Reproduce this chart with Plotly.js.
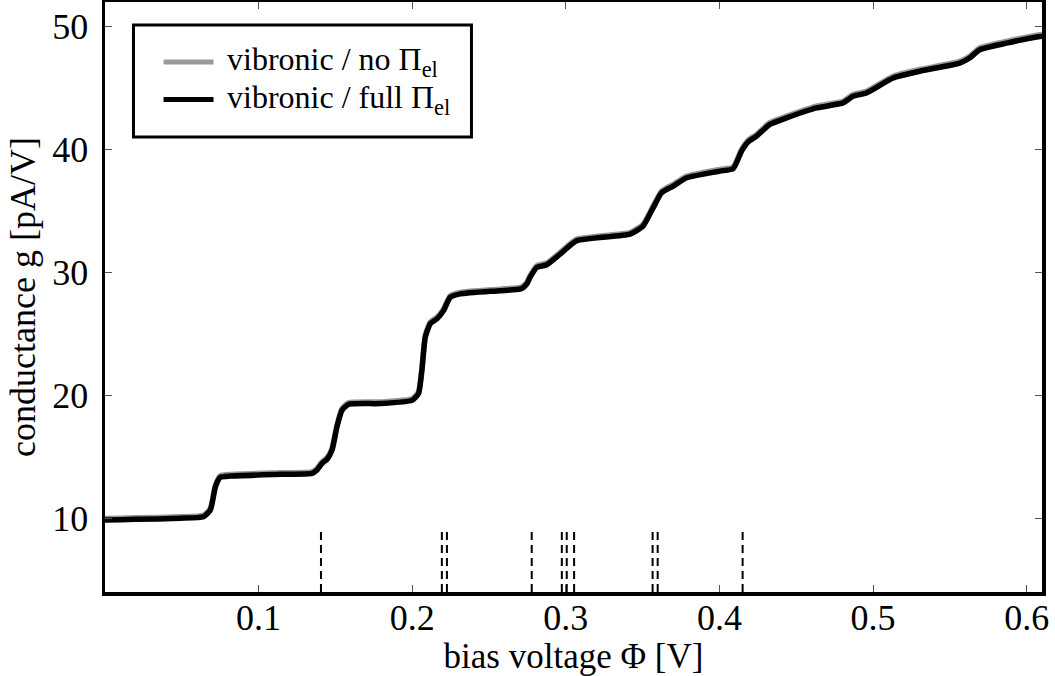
<!DOCTYPE html>
<html>
<head>
<meta charset="utf-8">
<script src="https://cdn.plot.ly/plotly-3.0.1.min.js"></script>
<style>html,body{margin:0;padding:0;background:#fff;}#chart{width:1055px;height:676px;}</style>
</head>
<body>
<div id="chart"></div>
<script>
// bias voltage [V]
var biasV = [0, 0.0491, 0.0641, 0.0686, 0.0719, 0.0751, 0.0816, 0.1141, 0.1348, 0.1380,
  0.1413, 0.1445, 0.1478, 0.1510, 0.1543, 0.1586, 0.1792, 0.1998, 0.2041, 0.2063,
  0.2085, 0.2117, 0.2161, 0.2204, 0.2247, 0.2312, 0.2572, 0.2702, 0.2724, 0.2746,
  0.2767, 0.2811, 0.2876, 0.2963, 0.3071, 0.3418, 0.3504, 0.3569, 0.3624, 0.3700,
  0.3787, 0.4003, 0.4090, 0.4144, 0.4187, 0.4242, 0.4328, 0.4437, 0.4632, 0.4805,
  0.4870, 0.4957, 0.5130, 0.5304, 0.5564, 0.5629, 0.5694, 0.5868, 0.6085, 0.6100];
// vibronic / full Pi_el conductance [pA/V]
var gFull = [9.86, 10.00, 10.13, 10.67, 12.56, 13.33, 13.43, 13.57, 13.65, 13.92,
  14.46, 14.79, 15.54, 17.43, 18.79, 19.27, 19.33, 19.59, 20.14, 22.03,
  24.73, 25.82, 26.22, 26.89, 27.97, 28.25, 28.51, 28.65, 28.78, 29.06,
  29.59, 30.41, 30.62, 31.49, 32.57, 33.11, 33.79, 35.27, 36.49, 37.03,
  37.70, 38.24, 38.45, 39.87, 40.62, 41.09, 42.04, 42.57, 43.38, 43.79,
  44.33, 44.60, 45.82, 46.37, 47.03, 47.44, 48.12, 48.65, 49.20, 49.22];
// vibronic / no Pi_el conductance [pA/V]
var gNoPi = [9.98, 10.12, 10.25, 10.80, 12.70, 13.46, 13.56, 13.70, 13.78, 14.05,
  14.59, 14.92, 15.68, 17.57, 18.93, 19.40, 19.46, 19.72, 20.28, 22.17,
  24.87, 25.96, 26.36, 27.03, 28.10, 28.38, 28.64, 28.78, 28.92, 29.20,
  29.73, 30.55, 30.76, 31.63, 32.71, 33.25, 33.93, 35.41, 36.63, 37.17,
  37.84, 38.38, 38.59, 40.01, 40.76, 41.23, 42.18, 42.71, 43.52, 43.93,
  44.47, 44.74, 45.96, 46.51, 47.17, 47.58, 48.26, 48.79, 49.34, 49.36];
// vibrational excitation thresholds [V]
var modeV = [0.1406, 0.2193, 0.2226, 0.2778, 0.2974, 0.3006, 0.3054, 0.3565, 0.3598, 0.4151];
var modeLow = 4.0, modeHigh = 9.05;

var xTicks = [0.1, 0.2, 0.3, 0.4, 0.5, 0.6];
var xTickText = ['0.1', '0.2', '0.3', '0.4', '0.5', '0.6'];
var yTicks = [10, 20, 30, 40, 50];
var yTickText = ['10', '20', '30', '40', '50'];

var seriesNames = ['vibronic / no Π<sub>el</sub>', 'vibronic / full Π<sub>el</sub>'];
var seriesColors = ['#999999', '#000000'];

var dashX = [], dashY = [];
modeV.forEach(function (v) { dashX.push(v, v, null); dashY.push(modeLow, modeHigh, null); });

var font = 'Liberation Serif, Times New Roman, serif';

var traces = [
  {x: dashX, y: dashY, mode: 'lines', showlegend: false, hoverinfo: 'skip',
   line: {color: '#000', width: 2, dash: '8px,5px'}},
  {x: biasV, y: gNoPi, mode: 'lines', name: seriesNames[0], showlegend: false,
   line: {color: seriesColors[0], width: 5.5, shape: 'spline', smoothing: 0.5}},
  {x: biasV, y: gFull, mode: 'lines', name: seriesNames[1], showlegend: false,
   line: {color: seriesColors[1], width: 5.5, shape: 'spline', smoothing: 0.5}}
];

var axisCommon = {
  showgrid: false, zeroline: false, showline: true, linecolor: '#000', linewidth: 3.5,
  mirror: 'allticks', ticks: 'inside', ticklen: 7, tickwidth: 1, tickcolor: '#555',
  tickfont: {family: font, size: 36, color: '#000'}
};

// legend drawn in paper coordinates
var legBox = {x0: 0.0304, x1: 0.3911, y0: 0.7713, y1: 0.961};
var legLineX = [0.0625, 0.1158];
var legRowY = [0.8984, 0.8348];
var legTextX = 0.1286;

var shapes = [{type: 'rect', xref: 'paper', yref: 'paper',
  x0: legBox.x0, x1: legBox.x1, y0: legBox.y0, y1: legBox.y1,
  line: {color: '#000', width: 3}, fillcolor: '#fff'}];
var annotations = [];
for (var i = 0; i < 2; i++) {
  shapes.push({type: 'line', xref: 'paper', yref: 'paper',
    x0: legLineX[0], x1: legLineX[1], y0: legRowY[i], y1: legRowY[i],
    line: {color: seriesColors[i], width: 5}});
  annotations.push({xref: 'paper', yref: 'paper', x: legTextX, y: legRowY[i],
    xanchor: 'left', yanchor: 'middle', showarrow: false, text: seriesNames[i],
    font: {family: font, size: 32, color: '#000'}});
}

var layout = {
  width: 1055, height: 676,
  margin: {l: 104.5, r: 13.3, t: 2, b: 83.7},
  paper_bgcolor: '#fff', plot_bgcolor: '#fff',
  font: {family: font, color: '#000'},
  xaxis: Object.assign({}, axisCommon, {
    range: [0, 0.61], tickvals: xTicks, ticktext: xTickText, ticklabelstandoff: -9,
    title: {text: 'bias voltage Φ [V]', font: {family: font, size: 35}, standoff: 5}
  }),
  yaxis: Object.assign({}, axisCommon, {
    range: [4, 52], tickvals: yTicks, ticktext: yTickText, ticklabelstandoff: 6,
    title: {text: 'conductance g [pA/V]', font: {family: font, size: 36}, standoff: 6}
  }),
  shapes: shapes,
  annotations: annotations,
  showlegend: false
};

Plotly.newPlot('chart', traces, layout, {staticPlot: true, displayModeBar: false});
</script>
</body>
</html>
